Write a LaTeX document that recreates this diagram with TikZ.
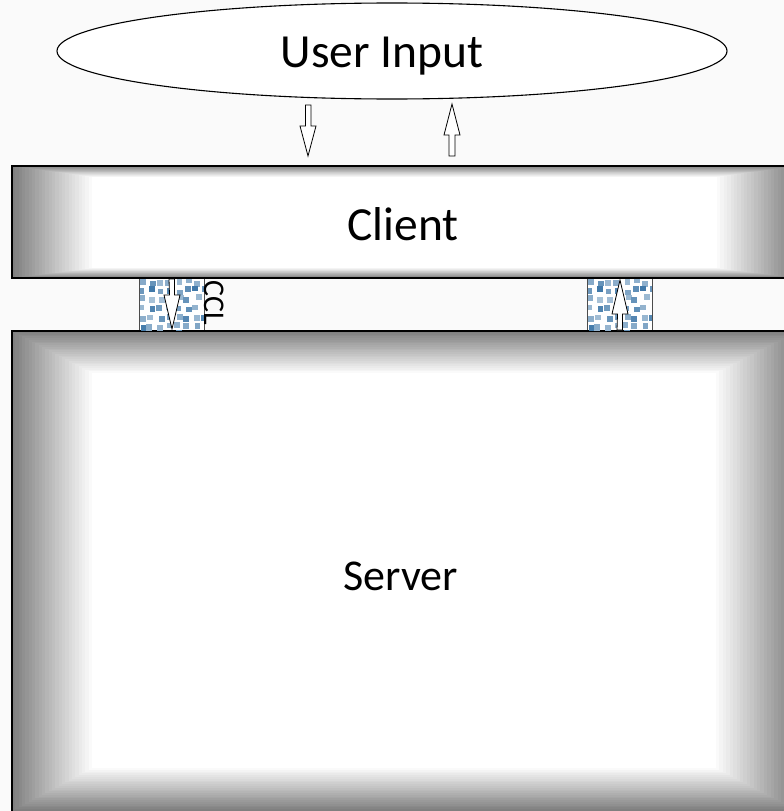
\documentclass[tikz,border=0pt]{standalone}
\usepackage{fontspec}
\setmainfont{Carlito}
\usetikzlibrary{shapes.geometric}
\definecolor{bg}{HTML}{FAFAFA}
\definecolor{dotblue}{HTML}{3A74A6}
\newcommand\gradframe[8]{%
  \foreach \i in {0,...,23}{%
    \pgfmathsetmacro\tfr{\i/24}%
    \pgfmathsetmacro\ggv{50*(1-\tfr)}%
    \fill[black!\ggv] ({#1+\tfr*(#5-#1)},{#2+\tfr*(#6-#2)}) rectangle ({#3+\tfr*(#7-#3)},{#4+\tfr*(#8-#4)});
  }%
  \fill[white] (#5,#6) rectangle (#7,#8);
}
\newcommand\speckfill[4]{%
  \begin{scope}
    \clip (#1,#2) rectangle (#3,#4);
    \fill[white] (#1,#2) rectangle (#3,#4);
    \pgfmathsetseed{11}
    \foreach \gx in {0,...,7}{
      \foreach \gy in {0,...,6}{
        \pgfmathsetmacro\px{#1+\gx*9.2+rand*2.2}
        \pgfmathsetmacro\py{#2+\gy*8.8+rand*2.2}
        \pgfmathsetmacro\cc{40+60*rnd}
        \fill[dotblue!\cc!white] (\px,\py) rectangle ++(5.8,5.8);
      }
    }
  \end{scope}
}
\tikzset{
  lbl/.style={font=\fontsize{47.5}{52}\selectfont, inner sep=0pt},
  blk/.style={draw=black, fill=white, line width=0.8pt, line join=miter},
  boxedge/.style={draw=black, line width=2.6pt},
}
\begin{document}
\begin{tikzpicture}[x=1pt,y=-1pt]
\useasboundingbox (0,0) rectangle (784,811);
\clip (0,0) rectangle (784,811);
\fill[bg] (0,0) rectangle (784,811);

% user input ellipse
\node[ellipse, draw=black, line width=1.1pt, fill=white, minimum width=670pt, minimum height=96pt, inner sep=0pt] (user) at (392,51) {};
\node[lbl, anchor=base] (usertxt) at (382,67) {User Input};

% arrows between ellipse and client
\draw[blk] (305.5,105) -- (311,105) -- (311,126) -- (316,126) -- (308,156) -- (300,126) -- (305.5,126) -- cycle;
\draw[blk] (449,156) -- (455,156) -- (455,135) -- (460,135) -- (452,104) -- (444,135) -- (449,135) -- cycle;

% client frame
\gradframe{12}{166}{798}{278}{92}{177}{717}{268}
\draw[boxedge] (12,166) rectangle (798,278);
\node[lbl] (client) at (403,224) {Client};

% server frame
\gradframe{12}{331}{798}{811}{92}{373}{716}{768}
\draw[boxedge] (12,331) rectangle (798,830);
\node[lbl, font=\fontsize{44}{50}\selectfont] (server) at (400.5,576) {Server};

% CCL channels
\speckfill{139}{279}{204}{330}
\draw[black!70, line width=1pt] (139,279) -- (139,330) (204,279) -- (204,330);
\speckfill{587}{279}{652}{330}
\draw[black!70, line width=1pt] (587,279) -- (587,330) (652,279) -- (652,330);
\node[font=\fontsize{30}{32}\selectfont, rotate=-90, inner sep=0pt] (ccl) at (214.5,303) {CCL};

\draw[blk] (169,279) -- (174.5,279) -- (174.5,295) -- (180,295) -- (172,329) -- (164,295) -- (169.5,295) -- cycle;
\draw[blk] (617,330) -- (622.5,330) -- (622.5,314) -- (628,314) -- (620,280) -- (612,314) -- (617.5,314) -- cycle;
\end{tikzpicture}
\end{document}
